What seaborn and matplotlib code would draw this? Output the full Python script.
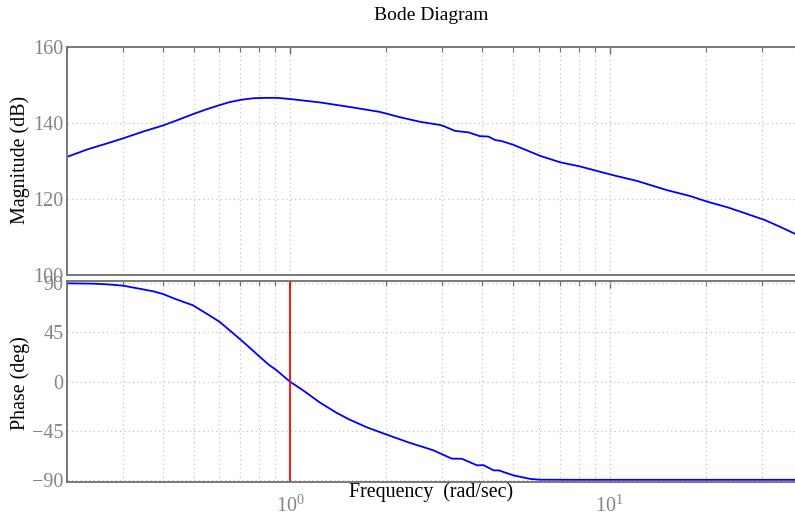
import numpy as np
import pandas as pd
import matplotlib
matplotlib.use("Agg")
import matplotlib.pyplot as plt
import matplotlib.ticker as mticker
import seaborn as sns

# ---- data ----
freq_mag = [0.2, 0.234, 0.268, 0.3, 0.347, 0.4, 0.447, 0.497, 0.549, 0.603, 0.649,
            0.705, 0.768, 0.845, 0.908, 1.0, 1.24, 1.54, 1.91, 2.21, 2.55, 2.95,
            3.02, 3.28, 3.62, 3.93, 4.18, 4.38, 4.6, 5.01, 6.07, 7.02, 8.11, 9.36,
            10.4, 12.2, 15.1, 17.9, 20.3, 23.3, 25.7, 30.6, 34.2, 38.2, 40.0]
magnitude = [131.0, 133.1, 134.6, 135.9, 137.7, 139.3, 140.8, 142.3, 143.6, 144.7, 145.5,
             146.1, 146.5, 146.6, 146.6, 146.3, 145.4, 144.2, 142.9, 141.5, 140.3, 139.45,
             139.2, 137.9, 137.5, 136.5, 136.4, 135.5, 135.2, 134.2, 131.3, 129.6, 128.5, 127.1,
             126.1, 124.7, 122.3, 120.7, 119.2, 117.8, 116.6, 114.4, 112.6, 110.7, 109.9]

freq_ph = [0.2, 0.243, 0.27, 0.3, 0.347, 0.375, 0.4, 0.441, 0.497, 0.549, 0.603, 0.657,
           0.705, 0.758, 0.805, 0.855, 0.908, 1.0, 1.1, 1.24, 1.4, 1.54, 1.75, 2.01,
           2.2, 2.38, 2.6, 2.81, 3.21, 3.45, 3.85, 4.03, 4.34, 4.50, 5.01, 5.65,
           6.07, 8.0, 15.0, 40.0]
phase = [89.7, 89.4, 88.7, 87.6, 84.2, 82.3, 80.0, 75.1, 69.7, 62.0, 54.5, 45.3,
         37.7, 29.5, 22.6, 15.9, 10.4, 0.0, -8.0, -19.0, -28.5, -34.8, -42.0, -48.4,
         -52.5, -56.0, -59.5, -62.7, -70.3, -70.4, -76.4, -76.2, -81.0, -81.0, -85.6, -88.8,
         -89.5, -89.6, -89.6, -89.6]

crossover_freq = [1.0]

mag_ticks = [100, 120, 140, 160]
phase_ticks = [-90, -45, 0, 45, 90]

title = "Bode Diagram"
mag_label = "Magnitude (dB)"
phase_label = "Phase (deg)"
freq_label = "Frequency  (rad/sec)"

# ---- style ----
sns.set_theme(style="white")
plt.rcParams["font.family"] = ["Liberation Serif", "DejaVu Serif"]
plt.rcParams["mathtext.fontset"] = "custom"
plt.rcParams["mathtext.rm"] = "Liberation Serif"
plt.rcParams["mathtext.it"] = "Liberation Serif:italic"
plt.rcParams["mathtext.bf"] = "Liberation Serif:bold"
plt.rcParams["axes.unicode_minus"] = True

spine_col = "#6e6e6e"
tick_lab_col = "#858585"
grid_col = "#c4c4c4"

fig = plt.figure(figsize=(7.95, 5.16), dpi=100)
W, H = 795.0, 516.0
left = 66.5 / W
width = 735.5 / W
ax1 = fig.add_axes([left, 1 - 274.7 / H, width, (274.7 - 47.0) / H])
ax2 = fig.add_axes([left, 1 - 482.0 / H, width, (482.0 - 280.7) / H], sharex=ax1)

df_mag = pd.DataFrame({"freq": freq_mag, "mag": magnitude})
df_ph = pd.DataFrame({"freq": freq_ph, "phase": phase})

sns.lineplot(data=df_mag, x="freq", y="mag", ax=ax1, color="#0000ff", lw=1.3,
             estimator=None, sort=False)
sns.lineplot(data=df_ph, x="freq", y="phase", ax=ax2, color="#0000ff", lw=1.3,
             estimator=None, sort=False)
for f in crossover_freq:
    ax2.axvline(f, color="#ff0000", lw=1.3)

for ax in (ax1, ax2):
    ax.set_xscale("log")
    ax.set_xlim(0.2, 40)
    ax.xaxis.set_major_locator(mticker.LogLocator(base=10, numticks=10))
    ax.xaxis.set_minor_locator(mticker.LogLocator(base=10, subs=np.arange(2, 10), numticks=20))
    ax.xaxis.set_minor_formatter(mticker.NullFormatter())
    ax.grid(True, which="major", axis="both", ls=(0, (1, 2.5)), color=grid_col, lw=0.9)
    ax.grid(True, which="minor", axis="x", ls=(0, (1, 2.5)), color=grid_col, lw=0.9)
    for s in ax.spines.values():
        s.set_color(spine_col)
        s.set_linewidth(1.3)
        s.set_visible(True)
    ax.tick_params(which="both", direction="in", top=True, right=True,
                   color=spine_col, labelcolor=tick_lab_col, labelsize=14.5)
    ax.tick_params(which="major", length=5, width=1.0, pad=2)
    ax.tick_params(which="minor", length=3.5, width=0.8)
    ax.set_xlabel("")
    ax.set_ylabel("")
    ax.set_axisbelow(True)

ax1.set_ylim(100, 160)
ax1.set_yticks(mag_ticks)
ax1.tick_params(axis="x", which="both", labelbottom=False)

ax2.set_ylim(-91.6, 92.1)
ax2.set_yticks(phase_ticks)
ax2.tick_params(axis="x", which="major", pad=10)

fig.text(431.7 / W, 1 - 15 / H, title, ha="center", va="center", fontsize=14.0, color="black")
fig.text(20 / W, 1 - 160 / H, mag_label, ha="center", va="center", rotation=90,
         fontsize=14.4, color="black")
fig.text(20 / W, 1 - 383 / H, phase_label, ha="center", va="center", rotation=90,
         fontsize=14.4, color="black")
fig.text(431 / W, 1 - 492 / H, freq_label, ha="center", va="center", fontsize=14.4,
         color="black")

fig.savefig("out.png", dpi=100)
